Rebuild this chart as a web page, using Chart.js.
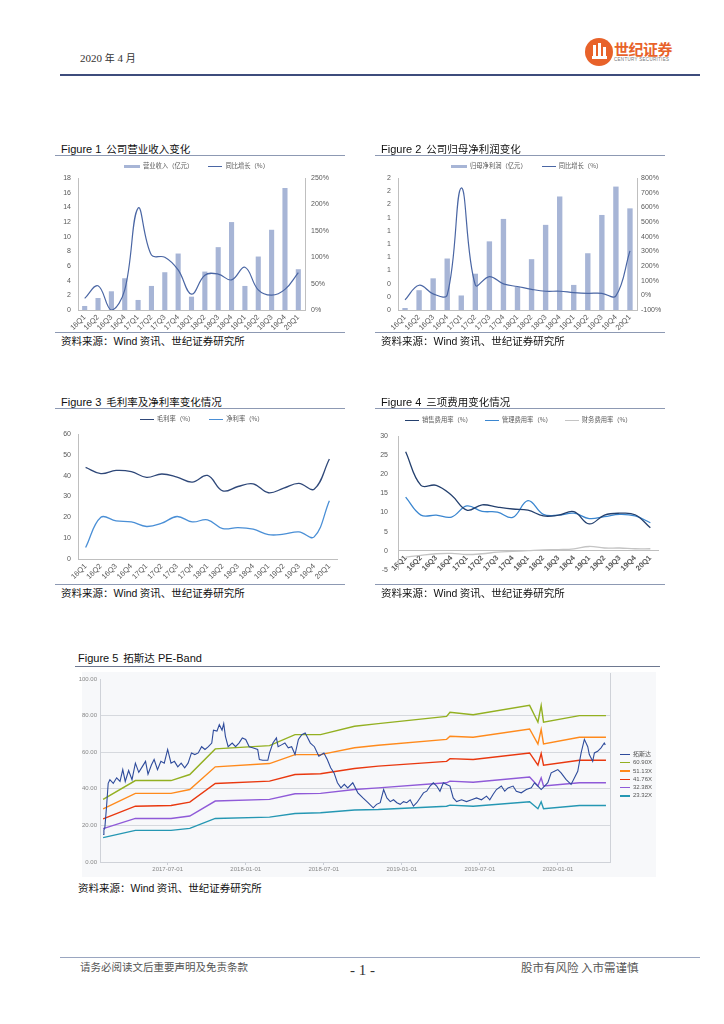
<!DOCTYPE html>
<html>
<head>
<meta charset="utf-8">
<script src="https://cdn.jsdelivr.net/npm/chart.js@4.4.0/dist/chart.umd.min.js"></script>
<style>
body { margin:0; background:#fff; width:724px; height:1024px; position:relative; overflow:hidden;
       font-family:"Liberation Sans", Arial, "Noto Sans CJK SC", sans-serif; }
.abs { position:absolute; }
.cn { font-family:"Noto Sans CJK SC", sans-serif; }
.ftitle { position:absolute; font-size:11px; color:#111; white-space:nowrap; }
.ftitle .cn { font-size:10.5px; margin-left:5px; }
.rule { position:absolute; height:1px; background:#8d99b3; }
.src { position:absolute; font-size:10.5px; color:#111; white-space:nowrap; }
.box { position:absolute; }
.leg { position:absolute; white-space:nowrap; font-family:"Noto Sans CJK SC", sans-serif; font-size:6.3px; color:#595959; line-height:8px; }
.leg .it { display:inline-block; }
.leg .sw { display:inline-block; vertical-align:middle; margin-right:3px; }
#leg5 div { height:8.3px; line-height:8.3px; font-size:6px; color:#555; white-space:nowrap; }
#leg5 span.sw { display:inline-block; width:10px; height:1.5px; vertical-align:middle; margin-right:3px; }
</style>
</head>
<body>

<!-- header -->
<div class="abs" style="left:80px;top:50px;font-size:11px;color:#333;font-family:'Liberation Serif','Noto Sans CJK SC',serif;">2020 <span class="cn" style="font-size:10px">年</span> 4 <span class="cn" style="font-size:10px">月</span></div>
<div class="abs" style="left:585px;top:38px;width:28px;height:28px;border-radius:50%;background:#e8622a;"></div>
<div class="abs" style="left:593px;top:45px;width:3px;height:14px;background:#fff;"></div>
<div class="abs" style="left:598px;top:43px;width:3px;height:16px;background:#fff;"></div>
<div class="abs" style="left:603px;top:47px;width:3px;height:12px;background:#fff;"></div>
<div class="abs" style="left:592px;top:56px;width:15px;height:3px;background:#fff;"></div>
<div class="abs cn" style="left:614px;top:38px;font-size:15px;font-weight:bold;color:#e8622a;letter-spacing:-0.5px;">世纪证券</div>
<div class="abs" style="left:614px;top:57px;font-size:4.5px;color:#777;letter-spacing:0.3px;">CENTURY SECURITIES</div>
<div class="abs" style="left:60px;top:74px;width:640px;height:1.5px;background:#3d4c7c;"></div>

<!-- figure 1 -->
<div class="ftitle" style="left:61px;top:141px;">Figure 1<span class="cn">公司营业收入变化</span></div>
<div class="rule" style="left:55px;top:155px;width:290px;"></div>
<div class="box" style="left:55px;top:158px;"><canvas id="c1" width="290" height="174"></canvas></div>
<div id="leg1" class="leg" style="left:124px;top:162px;"></div>
<div class="rule" style="left:55px;top:332px;width:290px;"></div>
<div class="src cn" style="left:61px;top:333px;">资料来源：<span style="font-family:'Liberation Sans'">Wind</span> 资讯、世纪证券研究所</div>

<!-- figure 2 -->
<div class="ftitle" style="left:381px;top:141px;">Figure 2<span class="cn">公司归母净利润变化</span></div>
<div class="rule" style="left:375px;top:155px;width:290px;"></div>
<div class="box" style="left:375px;top:158px;"><canvas id="c2" width="290" height="174"></canvas></div>
<div id="leg2" class="leg" style="left:451px;top:162px;"></div>
<div class="rule" style="left:375px;top:332px;width:290px;"></div>
<div class="src cn" style="left:381px;top:333px;">资料来源：<span style="font-family:'Liberation Sans'">Wind</span> 资讯、世纪证券研究所</div>

<!-- figure 3 -->
<div class="ftitle" style="left:61px;top:394px;">Figure 3<span class="cn">毛利率及净利率变化情况</span></div>
<div class="rule" style="left:55px;top:408px;width:290px;"></div>
<div class="box" style="left:55px;top:410px;"><canvas id="c3" width="290" height="174"></canvas></div>
<div id="leg3" class="leg" style="left:140px;top:415px;"></div>
<div class="rule" style="left:55px;top:584px;width:290px;"></div>
<div class="src cn" style="left:61px;top:585px;">资料来源：<span style="font-family:'Liberation Sans'">Wind</span> 资讯、世纪证券研究所</div>

<!-- figure 4 -->
<div class="ftitle" style="left:381px;top:394px;">Figure 4<span class="cn">三项费用变化情况</span></div>
<div class="rule" style="left:375px;top:408px;width:290px;"></div>
<div class="box" style="left:375px;top:410px;"><canvas id="c4" width="290" height="174"></canvas></div>
<div id="leg4" class="leg" style="left:405px;top:416px;"></div>
<div class="rule" style="left:375px;top:584px;width:290px;"></div>
<div class="src cn" style="left:381px;top:585px;">资料来源：<span style="font-family:'Liberation Sans'">Wind</span> 资讯、世纪证券研究所</div>

<!-- figure 5 -->
<div class="ftitle" style="left:78px;top:650px;">Figure 5<span class="cn">拓斯达</span> PE-Band</div>
<div class="rule" style="left:75px;top:666px;width:585px;background:#6d7890;"></div>
<div class="box" style="left:79px;top:672px;"><canvas id="c5" width="577" height="205"></canvas></div>
<div id="leg5" class="abs" style="left:620px;top:750px;"></div>
<div class="src cn" style="left:78px;top:880px;">资料来源：<span style="font-family:'Liberation Sans'">Wind</span> 资讯、世纪证券研究所</div>

<!-- footer -->
<div class="abs" style="left:60px;top:957px;width:640px;height:1px;background:#9aa6c0;"></div>
<div class="abs cn" style="left:80px;top:959px;font-size:10.5px;color:#555;">请务必阅读文后重要声明及免责条款</div>
<div class="abs" style="left:350px;top:962px;font-size:15px;color:#333;font-family:'Liberation Serif',serif;">- 1 -</div>
<div class="abs cn" style="left:521px;top:959px;font-size:11.5px;color:#555;">股市有风险 入市需谨慎</div>

<script>
// quarterly data
var quarters = ['16Q1','16Q2','16Q3','16Q4','17Q1','17Q2','17Q3','17Q4','18Q1','18Q2','18Q3','18Q4','19Q1','19Q2','19Q3','19Q4','20Q1'];
var revenue = [0.55,1.64,2.55,4.33,1.37,3.28,5.15,7.7,1.82,5.24,8.57,11.99,3.28,7.29,10.94,16.64,5.56];
var revenueYoy = [22,46,0,38,193,104,100,76,30,66,68,57,81,38,28,39,71];
var profit = [0.03,0.30,0.48,0.78,0.22,0.55,1.04,1.38,0.35,0.77,1.29,1.72,0.38,0.86,1.44,1.87,1.54];
var profitYoy = [-31,69,10,3,732,71,128,78,60,41,28,28,19,14,14,-4,303];
var profitTicks = ['0','0','0','1','1','1','1','1','2','2','2'];
var grossMargin = [44,41,42.5,41.9,39.2,40.8,39.3,36.9,40.1,32.7,34.8,36.1,31.8,34,36.3,33.5,48];
var netMargin = [5.5,20,18.3,17.8,15.6,17.2,20.4,17.8,18.8,14.6,15.1,14.3,11.7,11.9,13,10.6,28];
var salesRate = [25.9,17.1,17.1,14.5,10.6,12,11.4,10.9,10.6,9.1,9.3,10.2,7,9.3,9.8,9.4,6];
var adminRate = [14,9.3,9.3,8.8,11.7,10.3,10.1,8.7,13.1,9.5,9.3,9.8,8.4,8.9,9.5,9.1,7.3];
var financeRate = [-1.7,-1.2,-0.8,-0.7,-1,-0.8,-0.4,-0.2,0,0.2,0.3,0.5,1.1,0.7,0.7,0.5,0.5];

// PE band (x = months since 2017-01-01)
var peTickPos = [6,12,18,24,30,36];
var peTickLabels = ['2017-07-01','2018-01-01','2018-07-01','2019-01-01','2019-07-01','2020-01-01'];
var peNames = ['拓斯达','60.90X','51.13X','41.76X','32.38X','23.32X'];
var priceMonths = [1.04,1.1,1.17,1.3,1.43,1.56,1.82,2.08,2.34,2.55,2.74,3.0,3.26,3.52,3.78,4.04,4.3,4.49,4.75,4.96,
  5.22,5.48,5.74,6.0,6.26,6.52,6.78,7.04,7.31,7.57,7.83,8.09,8.35,8.61,8.87,9.13,9.39,9.52,9.79,9.97,
  10.18,10.31,10.44,10.65,10.96,11.22,11.48,11.74,12.0,12.27,12.53,12.92,13.05,13.31,13.7,13.83,14.09,14.36,14.49,14.75,
  15.01,15.27,15.53,15.79,16.05,16.31,16.57,16.7,16.97,17.28,17.62,18.01,18.27,18.53,18.79,19.05,19.32,19.58,19.84,20.23,
  20.62,21.01,21.4,21.8,22.06,22.34,22.6,22.85,23.11,23.36,23.62,23.87,24.13,24.38,24.64,24.89,25.15,25.4,25.66,25.91,
  26.17,26.42,26.68,26.93,27.19,27.44,27.7,27.95,28.21,28.59,28.97,29.36,29.74,30.12,30.51,30.76,31.02,31.27,31.65,31.91,
  32.16,32.55,32.8,33.18,33.57,33.95,34.2,34.46,34.71,34.97,35.22,35.48,35.73,35.99,36.24,36.63,37.01,37.27,37.52,37.78,
  38.03,38.29,38.41,38.67,38.8,39.05,39.31,39.56,39.64];
var priceValues = [15,17.5,18.5,30,43,45,43,46,44,50.5,44,50,45,54,49,52,55,48,53,56,
  50.5,55,54,61.5,54,55,52,54,51.5,54,59.6,58.7,59.6,63,61.5,63,65,72,71.5,75,
  72,75.6,68.7,63,65,63,65,67.8,67,63,62.4,61.5,56,55.6,55.6,59.6,65,67.8,63,64,
  65,62.4,63,58.7,67,69.6,70.5,68.7,65,63,57.8,59.6,56,51.5,48.7,43.3,40.5,42.4,40.5,43.3,
  37.8,35,32.4,29.6,31.5,32.4,39.6,35,33,34,32.4,31.5,33,32.4,34,30.5,32.4,35,37.8,38.7,
  41.5,43.3,41.5,38.7,43.3,42.4,41.5,35,33,34,33,34,35,34,36,34,37,39.6,41.5,38.7,
  40.5,41.5,38.7,37.8,39.6,40.5,43.3,41.5,39.6,41.5,43.3,48.7,49.6,50.5,48.7,45,42.4,46,49.6,59.6,
  67,63,58.7,55,59.6,60.5,62.4,65,64];
var bandMonths = [1.04,3.52,6.26,7.7,9.66,13.83,15.79,17.75,20.36,22.19,27.44,27.7,29.48,33.82,34.46,34.71,34.89,37.65,39.69];
var band1 = [34.2,44.5,44.5,47.8,61.8,63.6,69.6,69.6,74.2,75.6,79.6,81.8,80.5,85.6,76.4,85.5,76.4,80,80];
var band2 = [29,37.5,37.5,39.6,52,53.8,58.7,58.7,62.4,63.8,67,68.7,68.2,72.7,64.5,72.4,64.5,68.2,68.2];
var band3 = [23.6,30.5,30.9,32.7,42.9,44.2,47.8,48.2,51.1,52.4,55,56.5,56,59.6,52.9,59.3,52.9,55.6,55.6];
var band4 = [18.2,23.8,23.8,25.1,33.3,34.2,37.3,37.5,39.6,40.5,43.3,44.2,43.6,46.4,41.5,46,41.5,43.3,43.3];
var band5 = [13.3,17.3,17.3,18.4,23.8,24.5,26.5,26.9,28.4,28.7,30.5,31.1,30.5,32.9,29.1,32.9,29.1,30.9,30.9];

var tickFont = { family: "'Liberation Sans', Arial, sans-serif", size: 7 };
var xFont = { family: "'Liberation Sans', Arial, sans-serif", size: 7.5 };
var axisColor = '#bfbfbf';
var tickColor = '#595959';

function xAxis(h) {
    return {
        grid: { display: false, drawTicks: false },
        border: { color: axisColor },
        ticks: { minRotation: 45, maxRotation: 45, font: xFont, color: tickColor, padding: 3, autoSkip: false },
        afterFit: function (s) { s.height = h; }
    };
}

function yAxis(pos, min, max, step, w, cb) {
    var ax = {
        position: pos, min: min, max: max,
        grid: { display: false, drawTicks: false },
        border: { color: axisColor },
        ticks: { stepSize: step, font: tickFont, color: tickColor, padding: pos === 'left' ? 7 : 6 },
        afterFit: function (s) { s.width = w; }
    };
    if (cb) ax.ticks.callback = cb;
    return ax;
}

// html legend built from the chart's own datasets
function makeLegend(chart, id, gap) {
    var box = document.getElementById(id);
    chart.data.datasets.forEach(function (ds, i) {
        var it = document.createElement('span');
        it.className = 'it';
        if (i > 0) it.style.marginLeft = gap + 'px';
        var isBar = ds.type === 'bar';
        var col = isBar ? ds.backgroundColor : ds.borderColor;
        it.innerHTML = '<span class="sw" style="width:' + (isBar ? 16 : 14) + 'px;height:' + (isBar ? 3 : 1.5) +
            'px;background:' + col + '"></span>' + ds.label;
        box.appendChild(it);
    });
}

var common = {
    responsive: false, animation: false, events: [],
    plugins: { legend: { display: false }, tooltip: { enabled: false } }
};

// Figure 1
var ch1 = new Chart(document.getElementById('c1'), {
    data: {
        labels: quarters,
        datasets: [
            { type: 'bar', label: '营业收入（亿元）', data: revenue, backgroundColor: '#a7b5d6', yAxisID: 'y',
              barPercentage: 0.45, categoryPercentage: 0.85, order: 2, borderWidth: 0 },
            { type: 'line', label: '同比增长（%）', data: revenueYoy, borderColor: '#4a66a4', borderWidth: 1.2,
              pointRadius: 0, tension: 0.4, yAxisID: 'y1', order: 1 }
        ]
    },
    options: Object.assign({}, common, {
        layout: { padding: { top: 20 } },
        scales: {
            x: xAxis(22),
            y: yAxis('left', 0, 18, 2, 23),
            y1: yAxis('right', 0, 250, 50, 40, function (v) { return v + '%'; })
        }
    })
});
makeLegend(ch1, 'leg1', 15);

// Figure 2
var ch2 = new Chart(document.getElementById('c2'), {
    data: {
        labels: quarters,
        datasets: [
            { type: 'bar', label: '归母净利润（亿元）', data: profit, backgroundColor: '#a7b5d6', yAxisID: 'y',
              barPercentage: 0.45, categoryPercentage: 0.85, order: 2, borderWidth: 0 },
            { type: 'line', label: '同比增长（%）', data: profitYoy, borderColor: '#4a66a4', borderWidth: 1.2,
              pointRadius: 0, tension: 0.4, yAxisID: 'y1', order: 1 }
        ]
    },
    options: Object.assign({}, common, {
        layout: { padding: { top: 20 } },
        scales: {
            x: xAxis(22),
            y: yAxis('left', 0, 2, 0.2, 23, function (v, i) { return profitTicks[i]; }),
            y1: yAxis('right', -100, 800, 100, 28, function (v) { return v + '%'; })
        }
    })
});
ch2.options.scales.y1.ticks.padding = 4;
ch2.update();
makeLegend(ch2, 'leg2', 15);

// Figure 3
var x3 = xAxis(25);
x3.offset = true;
var ch3 = new Chart(document.getElementById('c3'), {
    type: 'line',
    data: {
        labels: quarters,
        datasets: [
            { label: '毛利率（%）', data: grossMargin, borderColor: '#2f4879', borderWidth: 1.3, pointRadius: 0, tension: 0.4 },
            { label: '净利率（%）', data: netMargin, borderColor: '#4a8fd6', borderWidth: 1.3, pointRadius: 0, tension: 0.4 }
        ]
    },
    options: Object.assign({}, common, {
        layout: { padding: { top: 24, right: 8 } },
        scales: {
            x: x3,
            y: yAxis('left', 0, 60, 10, 23)
        }
    })
});
makeLegend(ch3, 'leg3', 15);

// Figure 4
var x4 = xAxis(0);
x4.position = { y: 0 };
x4.offset = true;
x4.ticks.font = { family: "'Liberation Sans', Arial, sans-serif", size: 7.5, weight: 'bold' };
var y4 = yAxis('left', -5, 30, 5, 23);
y4.ticks.padding = 10;
var ch4 = new Chart(document.getElementById('c4'), {
    type: 'line',
    data: {
        labels: quarters,
        datasets: [
            { label: '销售费用率（%）', data: salesRate, borderColor: '#24406e', borderWidth: 1.3, pointRadius: 0, tension: 0.4 },
            { label: '管理费用率（%）', data: adminRate, borderColor: '#3a86d0', borderWidth: 1.3, pointRadius: 0, tension: 0.4 },
            { label: '财务费用率（%）', data: financeRate, borderColor: '#c4c4c4', borderWidth: 1.3, pointRadius: 0, tension: 0.4 }
        ]
    },
    options: Object.assign({}, common, {
        layout: { padding: { top: 26, bottom: 0, right: 7 } },
        scales: {
            x: x4,
            y: y4
        }
    })
});
makeLegend(ch4, 'leg4', 13);

// Figure 5 PE band
var peColors = ['#2e4b9b', '#93b021', '#ff8a1c', '#e9380f', '#8f5ad8', '#2597b3'];
var bandSeries = [band1, band2, band3, band4, band5];

function toPoints(xs, ys) {
    var pts = [];
    for (var i = 0; i < xs.length; i++) pts.push({ x: xs[i], y: ys[i] });
    return pts;
}

var peSets = [{ label: peNames[0], data: toPoints(priceMonths, priceValues), borderColor: peColors[0], borderWidth: 1.1, pointRadius: 0 }];
bandSeries.forEach(function (b, i) {
    peSets.push({ label: peNames[i + 1], data: toPoints(bandMonths, b), borderColor: peColors[i + 1], borderWidth: 1.4, pointRadius: 0 });
});

var bgPlugin = {
    id: 'bg5',
    beforeDraw: function (chart) {
        var c = chart.ctx;
        c.save();
        c.fillStyle = '#f7f8fa';
        c.fillRect(3, 0, chart.width - 3, chart.height);
        c.restore();
    },
    afterDraw: function (chart) {
        var c = chart.ctx, a = chart.chartArea;
        c.save();
        c.strokeStyle = '#cfd2d8';
        c.lineWidth = 1;
        c.beginPath();
        c.moveTo(Math.round(a.right) + 0.5, a.top - 6);
        c.lineTo(Math.round(a.right) + 0.5, a.bottom);
        c.stroke();
        c.restore();
    }
};

var smallFont = { family: "'Liberation Sans', Arial, sans-serif", size: 6 };
new Chart(document.getElementById('c5'), {
    type: 'line',
    data: { datasets: peSets },
    options: Object.assign({}, common, {
        layout: { padding: { top: 7, right: 46, left: 0, bottom: 0 } },
        scales: {
            x: {
                type: 'linear', min: 0.8, max: 40,
                afterBuildTicks: function (s) { s.ticks = peTickPos.map(function (v) { return { value: v }; }); },
                ticks: { font: smallFont, color: '#888', padding: 1, maxRotation: 0,
                         callback: function (v) { return peTickLabels[peTickPos.indexOf(v)]; } },
                grid: { drawOnChartArea: false, color: '#c8ccd4', tickLength: 3 },
                border: { color: '#cfd2d8' },
                afterFit: function (s) { s.height = 15; }
            },
            y: {
                min: 0, max: 100,
                ticks: { stepSize: 20, font: smallFont, color: '#888', padding: 3,
                         callback: function (v) { return v.toFixed(2); } },
                grid: { color: function (ctx) { return ctx.tick.value === 100 ? 'rgba(0,0,0,0)' : '#d6d9de'; }, drawTicks: false },
                border: { color: '#cfd2d8' },
                afterFit: function (s) { s.width = 21; }
            }
        }
    }),
    plugins: [bgPlugin]
});

// legend for figure 5
var leg = document.getElementById('leg5');
peNames.forEach(function (n, i) {
    var row = document.createElement('div');
    row.innerHTML = '<span class="sw" style="background:' + peColors[i] + '"></span>' + n;
    if (i === 0) row.className = 'cn';
    leg.appendChild(row);
});
</script>
</body>
</html>
